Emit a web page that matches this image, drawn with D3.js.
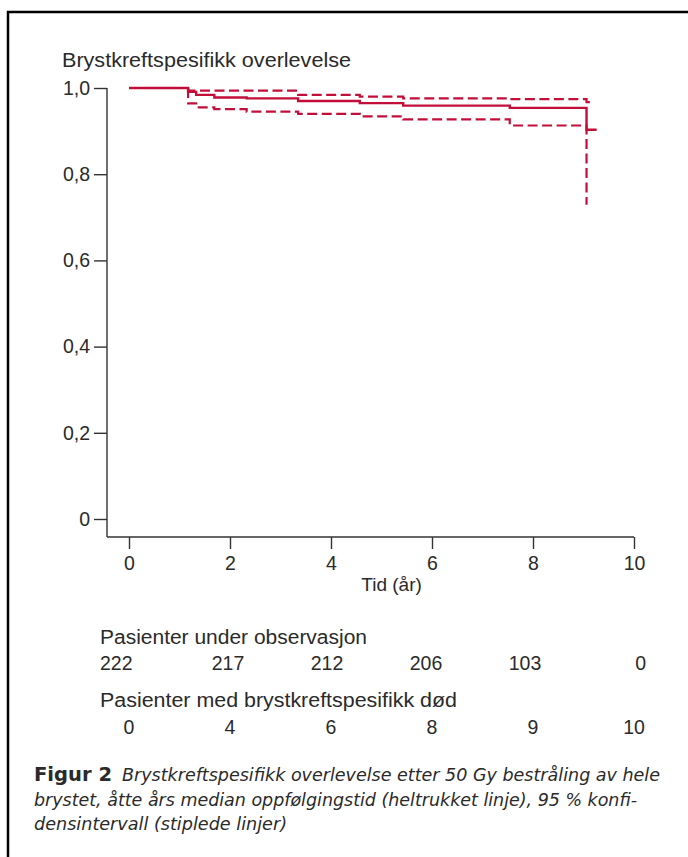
<!DOCTYPE html>
<html>
<head>
<meta charset="utf-8">
<script src="https://cdnjs.cloudflare.com/ajax/libs/d3/7.8.5/d3.min.js"></script>
<style>
  body { margin: 0; background: #fff; }
  svg text { font-family: "Liberation Sans", Arial, sans-serif; fill: #2a2a2a; }
  .cap { font-family: "DejaVu Sans Condensed", "Liberation Sans Narrow", "DejaVu Sans", sans-serif; }
</style>
</head>
<body>
<div class="canvas"></div>
<script>

const dims = { width: 688, height: 857 };

// Kaplan-Meier (heltrukket)
const kmTid = [0, 1.17, 1.33, 1.69, 2.33, 3.35, 4.57, 5.43, 7.54, 9.06, 9.26];
const kmVerdi = [1.0, 0.991, 0.984, 0.978, 0.976, 0.970, 0.965, 0.959, 0.954, 0.903, 0.903];

// 95 % konfidensintervall (stiplet)
const ovreTid = [1.17, 1.17, 3.35, 4.57, 5.43, 7.54, 9.06, 9.16];
const ovreVerdi = [1.0, 0.994, 0.984, 0.980, 0.976, 0.974, 0.967, 0.967];
const nedreTid = [1.17, 1.17, 1.33, 1.69, 2.33, 3.35, 4.57, 5.43, 7.54, 9.06];
const nedreVerdi = [1.0, 0.9645, 0.955, 0.951, 0.945, 0.940, 0.934, 0.927, 0.913, 0.729];

const xTicks = [0, 2, 4, 6, 8, 10];
const yTicks = [0, 0.2, 0.4, 0.6, 0.8, 1.0];

const underObs = [222, 217, 212, 206, 103, 0];
const dode = [0, 4, 6, 8, 9, 10];

const colour = '#c20f3a';

const svg = d3.select('.canvas')
  .append('svg')
  .attr('width', dims.width)
  .attr('height', dims.height);

// ramme
svg.append('path')
  .attr('d', `M8,${dims.height} V12 H${dims.width}`)
  .attr('fill', 'none')
  .attr('stroke', '#000')
  .attr('stroke-width', 2.5);

const x = d3.scaleLinear().domain([0, 10]).range([129, 634]);
const y = d3.scaleLinear().domain([0, 1]).range([519, 88]);
const axisLeftX = 107;
const axisBottomY = 537;

const fmt = d => d === 0 ? '0' : d3.format('.1f')(d).replace('.', ',');

// y-akse
const yAxis = svg.append('g')
  .attr('transform', `translate(${axisLeftX},0)`)
  .call(d3.axisLeft(y).tickValues(yTicks).tickFormat(fmt).tickSize(13).tickPadding(4).tickSizeOuter(0));
yAxis.select('.domain').remove();
yAxis.append('line')
  .attr('x1', 0).attr('x2', 0)
  .attr('y1', y(1)).attr('y2', axisBottomY);

// x-akse
const xAxis = svg.append('g')
  .attr('transform', `translate(0,${axisBottomY})`)
  .call(d3.axisBottom(x).tickValues(xTicks).tickSize(12).tickPadding(7).tickSizeOuter(0));
xAxis.select('.domain').remove();
xAxis.append('line')
  .attr('x1', axisLeftX).attr('x2', x(10))
  .attr('y1', 0).attr('y2', 0);

svg.selectAll('.tick line, g > line')
  .attr('stroke', '#333')
  .attr('stroke-width', 1.4);
svg.selectAll('.tick text')
  .attr('font-size', 19.5)
  .attr('font-family', '"Liberation Sans", Arial, sans-serif')
  .attr('fill', '#2a2a2a');

// kurver
const line = d3.line()
  .x(d => x(d[0]))
  .y(d => y(d[1]))
  .curve(d3.curveStepAfter);

const zip = (a, b) => a.map((t, i) => [t, b[i]]);

svg.append('path')
  .attr('d', line(zip(ovreTid, ovreVerdi)))
  .attr('fill', 'none').attr('stroke', colour)
  .attr('stroke-width', 2.2).attr('stroke-dasharray', '10,4.5');

svg.append('path')
  .attr('d', line(zip(nedreTid, nedreVerdi)))
  .attr('fill', 'none').attr('stroke', colour)
  .attr('stroke-width', 2.2).attr('stroke-dasharray', '10,4.5');

svg.append('path')
  .attr('d', line(zip(kmTid, kmVerdi)))
  .attr('fill', 'none').attr('stroke', colour)
  .attr('stroke-width', 2.4);

// tekster
svg.append('text')
  .attr('x', 62).attr('y', 67)
  .attr('font-size', 20)
  .attr('textLength', 289).attr('lengthAdjust', 'spacingAndGlyphs')
  .text('Brystkreftspesifikk overlevelse');

svg.append('text')
  .attr('x', x(5.2)).attr('y', 591)
  .attr('text-anchor', 'middle')
  .attr('font-size', 19)
  .text('Tid (år)');

// risikotabell
svg.append('text')
  .attr('x', 100).attr('y', 644)
  .attr('font-size', 20)
  .attr('textLength', 267).attr('lengthAdjust', 'spacingAndGlyphs')
  .text('Pasienter under observasjon');

svg.selectAll('.obs')
  .data(underObs)
  .enter().append('text')
  .attr('class', 'obs')
  .attr('x', (d, i) => i === 0 ? 100 : (i === underObs.length - 1 ? 646 : x(xTicks[i]) - 2 * i))
  .attr('y', 670)
  .attr('text-anchor', (d, i) => i === 0 ? 'start' : (i === underObs.length - 1 ? 'end' : 'middle'))
  .attr('font-size', 19.5)
  .text(d => d);

svg.append('text')
  .attr('x', 100).attr('y', 707)
  .attr('font-size', 20)
  .attr('textLength', 357).attr('lengthAdjust', 'spacingAndGlyphs')
  .text('Pasienter med brystkreftspesifikk død');

svg.selectAll('.dod')
  .data(dode)
  .enter().append('text')
  .attr('class', 'dod')
  .attr('x', (d, i) => x(xTicks[i]))
  .attr('y', 734)
  .attr('text-anchor', 'middle')
  .attr('font-size', 19.5)
  .text(d => d);

// figurtekst
svg.append('text')
  .attr('class', 'cap')
  .attr('x', 34).attr('y', 781)
  .attr('font-size', 20).attr('font-weight', 'bold')
  .attr('textLength', 78).attr('lengthAdjust', 'spacingAndGlyphs')
  .attr('fill', '#111')
  .text('Figur 2');

const capLines = [
  { x: 122, y: 781, w: 538, t: 'Brystkreftspesifikk overlevelse etter 50 Gy bestråling av hele' },
  { x: 34, y: 806, w: 603, t: 'brystet, åtte års median oppfølgingstid (heltrukket linje), 95 % konfi-' },
  { x: 34, y: 830, w: 253, t: 'densintervall (stiplede linjer)' }
];

svg.selectAll('.capline')
  .data(capLines)
  .enter().append('text')
  .attr('class', 'cap capline')
  .attr('x', d => d.x).attr('y', d => d.y)
  .attr('font-size', 18).attr('font-style', 'italic')
  .attr('textLength', d => d.w).attr('lengthAdjust', 'spacingAndGlyphs')
  .attr('fill', '#333')
  .text(d => d.t);

</script>
</body>
</html>
